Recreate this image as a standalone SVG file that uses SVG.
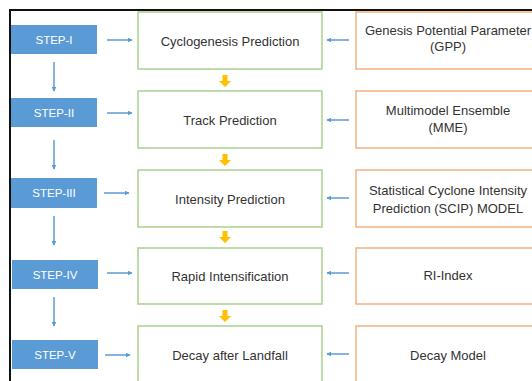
<svg xmlns="http://www.w3.org/2000/svg" width="532" height="381" viewBox="0 0 532 381">
<style>
.step rect{fill:#5B9BD5;}
.step text{fill:#fff;font-family:"Liberation Sans",Arial,sans-serif;font-size:11.5px;text-anchor:middle;}
.mid rect{fill:#fff;stroke:#A9D18E;stroke-width:1.5;}
.src rect{fill:#fff;stroke:#F4B183;stroke-width:1.5;}
.lbl{fill:#333;font-family:"Liberation Sans",Arial,sans-serif;font-size:13px;text-anchor:middle;}
.blue{stroke:#5B9BD5;stroke-width:1.5;fill:none;marker-end:url(#ah);}
.gold{fill:#FFC000;}
</style>
<defs>
<marker id="ah" viewBox="0 0 8 8" refX="7" refY="4" markerWidth="5" markerHeight="5" orient="auto" markerUnits="userSpaceOnUse">
<path d="M0,0 L8,4 L0,8 z" fill="#5B9BD5"/>
</marker>
</defs>
<rect width="532" height="381" fill="#fff"/>
<g id="frame" stroke="#111" stroke-width="2">
<line x1="9" y1="10" x2="532" y2="10"/>
<line x1="10" y1="9" x2="10" y2="381"/>
</g>
<g id="step1" class="step"><rect x="11" y="25" width="86" height="29"/><text x="54" y="44">STEP-I</text></g>
<g id="step2" class="step"><rect x="11" y="98" width="86" height="29"/><text x="54" y="117">STEP-II</text></g>
<g id="step3" class="step"><rect x="11" y="178" width="86" height="30"/><text x="54" y="197">STEP-III</text></g>
<g id="step4" class="step"><rect x="12" y="260" width="86" height="29"/><text x="55" y="279">STEP-IV</text></g>
<g id="step5" class="step"><rect x="12" y="340" width="86" height="29"/><text x="55" y="359">STEP-V</text></g>
<g id="mid1" class="mid"><rect x="138" y="12" width="184" height="57"/><text class="lbl" x="230" y="46">Cyclogenesis Prediction</text></g>
<g id="mid2" class="mid"><rect x="138" y="91" width="184" height="57"/><text class="lbl" x="230" y="125">Track Prediction</text></g>
<g id="mid3" class="mid"><rect x="138" y="170" width="184" height="57"/><text class="lbl" x="230" y="204">Intensity Prediction</text></g>
<g id="mid4" class="mid"><rect x="138" y="248" width="184" height="56"/><text class="lbl" x="230" y="281">Rapid Intensification</text></g>
<g id="mid5" class="mid"><rect x="138" y="326" width="184" height="60"/><text class="lbl" x="230" y="360">Decay after Landfall</text></g>
<g id="src1" class="src"><rect x="356" y="12" width="190" height="57"/><text class="lbl" x="448" y="35">Genesis Potential Parameter</text><text class="lbl" x="448" y="51">(GPP)</text></g>
<g id="src2" class="src"><rect x="356" y="91" width="190" height="57"/><text class="lbl" x="448" y="115">Multimodel Ensemble</text><text class="lbl" x="448" y="132">(MME)</text></g>
<g id="src3" class="src"><rect x="356" y="170" width="190" height="57"/><text class="lbl" x="448" y="195">Statistical Cyclone Intensity</text><text class="lbl" x="448" y="213">Prediction (SCIP) MODEL</text></g>
<g id="src4" class="src"><rect x="356" y="248" width="190" height="56"/><text class="lbl" x="448" y="280">RI-Index</text></g>
<g id="src5" class="src"><rect x="356" y="326" width="190" height="60"/><text class="lbl" x="448" y="360">Decay Model</text></g>
<g id="connectors">
<line class="blue" x1="54" y1="62" x2="54" y2="91"/>
<line class="blue" x1="54" y1="140" x2="54" y2="169"/>
<line class="blue" x1="54" y1="216" x2="54" y2="245"/>
<line class="blue" x1="54" y1="297" x2="54" y2="326"/>
<line class="blue" x1="107" y1="40" x2="132" y2="40"/>
<line class="blue" x1="107" y1="113" x2="132" y2="113"/>
<line class="blue" x1="104" y1="193" x2="129" y2="193"/>
<line class="blue" x1="107" y1="273" x2="132" y2="273"/>
<line class="blue" x1="105" y1="355" x2="130" y2="355"/>
<line class="blue" x1="349" y1="40" x2="327" y2="40"/>
<line class="blue" x1="349" y1="120" x2="327" y2="120"/>
<line class="blue" x1="349" y1="198" x2="327" y2="198"/>
<line class="blue" x1="349" y1="273" x2="327" y2="273"/>
<line class="blue" x1="349" y1="354" x2="327" y2="354"/>
<path class="gold" d="M222.5,75 h5 v6 h3.5 l-6,6 l-6,-6 h3.5 z"/>
<path class="gold" d="M222.5,154 h5 v6 h3.5 l-6,6 l-6,-6 h3.5 z"/>
<path class="gold" d="M222.5,231 h5 v6 h3.5 l-6,6 l-6,-6 h3.5 z"/>
<path class="gold" d="M222.5,310 h5 v6 h3.5 l-6,6 l-6,-6 h3.5 z"/>
</g>
</svg>
